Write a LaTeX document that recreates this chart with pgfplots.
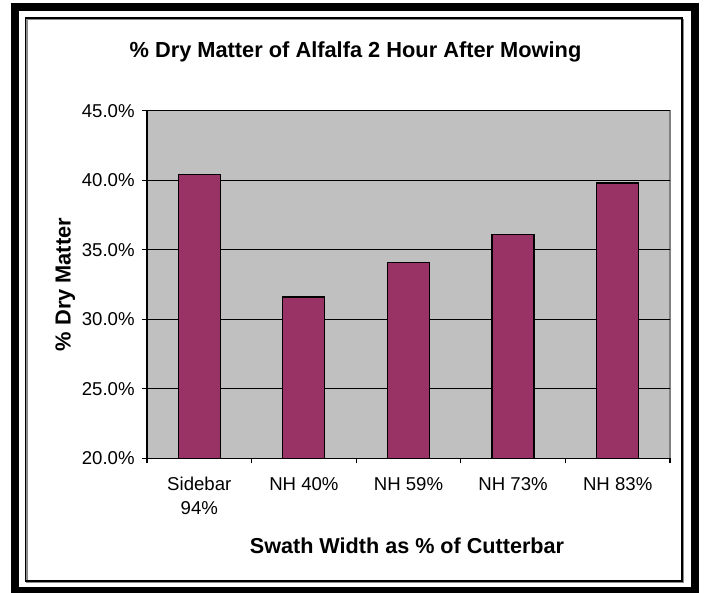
\documentclass[border=0pt]{standalone}
\usepackage{pgfplots}
\pgfplotsset{compat=1.18}
\usepackage{fontspec}
\setmainfont{Liberation Sans}
\definecolor{barc}{HTML}{993366}
\definecolor{plotbg}{HTML}{C0C0C0}
\begin{document}
\begin{tikzpicture}
\useasboundingbox (0,0) rectangle (352bp,-296.5bp);
\fill[white] (0,0) rectangle (352bp,-296.5bp);
\draw[line width=4bp] (7.5bp,-3.5bp) rectangle (347.25bp,-295.5bp);
\draw[black!45, line width=0.65bp] (13.5bp,-9.75bp) rectangle (341.75bp,-291.25bp);
\draw[black, line width=0.65bp] (12.75bp,-9bp) rectangle (341bp,-290.5bp);
\begin{axis}[
  at={(73.5bp,-229.15bp)}, anchor=south west,
  width=261.5bp, height=173.8bp, scale only axis,
  xmin=-0.5, xmax=4.5, ymin=20, ymax=45,
  axis x line=bottom, axis y line=left,
  axis line style={-, black, line width=0.6bp},
  axis background/.style={fill=plotbg, draw=black!50, line width=0.6bp},
  tick align=outside,
  major tick length=2.5bp,
  tick style={black, line width=0.6bp},
  /pgf/number format/assume math mode=true,
  ytick={20,25,...,45},
  yticklabel={\pgfmathprintnumber[fixed,fixed zerofill,precision=1]{\tick}\%},
  yticklabel style={anchor=east, inner sep=0pt, xshift=-3.5bp, font=\fontsize{9.3bp}{11bp}\selectfont},
  ymajorgrids,
  major grid style={black, line width=0.5bp},
  xtick={-0.5,0.5,...,4.5},
  xticklabels={},
  extra x ticks={0,1,2,3,4},
  extra x tick labels={{Sidebar\\94\%},{NH 40\%},{NH 59\%},{NH 73\%},{NH 83\%}},
  extra x tick style={major tick length=0pt, xticklabel style={anchor=north, inner sep=0pt, yshift=-9.2bp, align=center, font=\fontsize{9.3bp}{12.2bp}\selectfont}},
  every axis title shift=0pt,
  title={\% Dry Matter of Alfalfa 2 Hour After Mowing},
  title style={at={(axis description cs:0.3987,1.1536)}, anchor=base, yshift=0pt, inner sep=0pt, font=\bfseries\fontsize{10.9bp}{13bp}\selectfont},
  xlabel={Swath Width as \% of Cutterbar},
  xlabel style={at={(axis description cs:0.4971,-0.2733)}, anchor=base, inner sep=0pt, font=\bfseries\fontsize{10.8bp}{13bp}\selectfont},
  ylabel={\% Dry Matter},
  ylabel style={at={(axis description cs:-0.1459,0.5)}, anchor=base, inner sep=0pt, font=\bfseries\fontsize{10.9bp}{13bp}\selectfont},
]
\addplot[ybar, bar width=21bp, fill=barc, draw=black, line width=0.6bp]
  coordinates {(0,40.4) (1,31.6) (2,34.1) (3,36.1) (4,39.8)};
\end{axis}
\end{tikzpicture}
\end{document}
